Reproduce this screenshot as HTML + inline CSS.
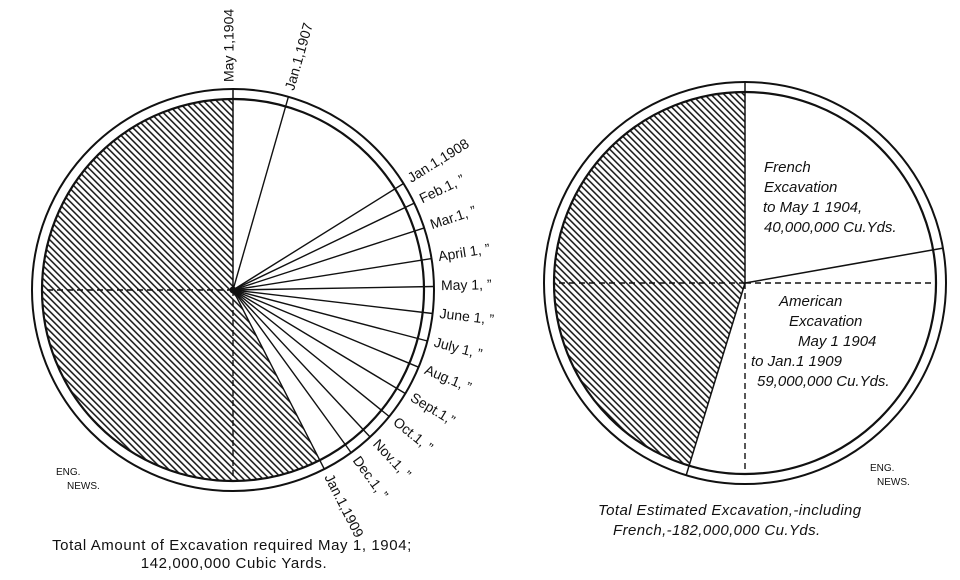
<!DOCTYPE html>
<html><head><meta charset="utf-8"><style>
html,body{margin:0;padding:0;background:#fff;}
svg{display:block;}
text{font-family:"Liberation Sans",sans-serif;fill:#111;}
</style></head><body>
<svg width="960" height="580" viewBox="0 0 960 580" xmlns="http://www.w3.org/2000/svg">
<defs>
<pattern id="h" width="4.6" height="4.6" patternUnits="userSpaceOnUse" patternTransform="rotate(45)">
<line x1="0" y1="1" x2="4.6" y2="1" stroke="#111" stroke-width="1.5"/>
</pattern>
</defs>
<g stroke="#111" fill="none">
<path d="M233,290 L233,99 A191,191 0 1 0 319.7,460.2 Z" fill="url(#h)" stroke="none"/>
<circle cx="233" cy="290" r="201" stroke-width="2"/>
<circle cx="233" cy="290" r="191" stroke-width="2.2"/>
<line x1="233" y1="290" x2="233" y2="89" stroke-width="1.5"/>
<g stroke-width="1.4">
<line x1="233" y1="290" x2="288.4" y2="96.8"/>
<line x1="233" y1="290" x2="403.5" y2="183.5"/>
<line x1="233" y1="290" x2="414.3" y2="203.1"/>
<line x1="233" y1="290" x2="424.2" y2="227.9"/>
<line x1="233" y1="290" x2="431.5" y2="258.6"/>
<line x1="233" y1="290" x2="434" y2="286.5"/>
<line x1="233" y1="290" x2="432.6" y2="313.5"/>
<line x1="233" y1="290" x2="427.4" y2="341"/>
<line x1="233" y1="290" x2="418.6" y2="367.2"/>
<line x1="233" y1="290" x2="405.3" y2="393.5"/>
<line x1="233" y1="290" x2="389.2" y2="416.5"/>
<line x1="233" y1="290" x2="370.1" y2="437"/>
<line x1="233" y1="290" x2="351.1" y2="452.6"/>
<line x1="233" y1="290" x2="324.3" y2="469.1"/>
</g>
<g stroke-width="1.4" stroke-dasharray="6,4">
<line x1="233" y1="290" x2="42" y2="290"/>
<line x1="233" y1="290" x2="233" y2="481"/>
</g>
<circle cx="233" cy="290" r="3" fill="#111"/>
<path d="M745,283 L745,92 A191,191 0 0 0 689.2,465.7 Z" fill="url(#h)" stroke="none"/>
<circle cx="745" cy="283" r="201" stroke-width="2"/>
<circle cx="745" cy="283" r="191" stroke-width="2.2"/>
<g stroke-width="1.5">
<line x1="745" y1="283" x2="745" y2="82"/>
<line x1="745" y1="283" x2="943" y2="248.1"/>
<line x1="745" y1="283" x2="686.2" y2="475.2"/>
</g>
<g stroke-width="1.4" stroke-dasharray="6,4">
<line x1="745" y1="283" x2="554" y2="283"/>
<line x1="745" y1="283" x2="936" y2="283"/>
<line x1="745" y1="283" x2="745" y2="474"/>
</g>
</g>
<g font-size="14" dominant-baseline="middle">
<text transform="translate(230,82) rotate(-90)">May 1,1904</text>
<text transform="translate(290.3,90.1) rotate(-74)">Jan.1,1907</text>
<text transform="translate(409.4,179.8) rotate(-32)">Jan.1,1908</text>
<text transform="translate(420.6,200.1) rotate(-25.6)">Feb.1, ”</text>
<text transform="translate(430.8,225.7) rotate(-18)">Mar.1, ”</text>
<text transform="translate(438.4,257.5) rotate(-9)">April 1, ”</text>
<text transform="translate(441,286.4) rotate(-1)">May 1, ”</text>
<text transform="translate(439.6,314.3) rotate(6.7)">June 1, ”</text>
<text transform="translate(434.2,342.8) rotate(14.7)">July 1,  ”</text>
<text transform="translate(425,369.9) rotate(22.6)">Aug.1, ”</text>
<text transform="translate(411.3,397.1) rotate(31)">Sept.1,”</text>
<text transform="translate(394.6,420.9) rotate(39)">Oct.1,  ”</text>
<text transform="translate(374.9,442.1) rotate(47)">Nov.1,  ”</text>
<text transform="translate(355.3,458.3) rotate(54)">Dec.1, ”</text>
<text transform="translate(327.4,475.3) rotate(63)">Jan.1,1909</text>
</g>
<g font-size="10">
<text x="56" y="475">ENG.</text>
<text x="67" y="489">NEWS.</text>
<text x="870" y="471">ENG.</text>
<text x="877" y="485">NEWS.</text>
</g>
<g font-size="15" font-style="italic">
<text x="764" y="172">French</text>
<text x="764" y="192">Excavation</text>
<text x="763" y="212">to May 1 1904,</text>
<text x="764" y="232">40,000,000 Cu.Yds.</text>
<text x="779" y="306">American</text>
<text x="789" y="326">Excavation</text>
<text x="798" y="346">May 1 1904</text>
<text x="751" y="366">to Jan.1 1909</text>
<text x="757" y="386">59,000,000 Cu.Yds.</text>
</g>
<g font-size="15">
<text x="232" y="550" text-anchor="middle" letter-spacing="0.6">Total Amount of Excavation required May 1, 1904;</text>
<text x="234" y="568" text-anchor="middle" letter-spacing="0.6">142,000,000 Cubic Yards.</text>
</g>
<g font-size="15" font-style="italic">
<text x="598" y="515" letter-spacing="0.4">Total Estimated Excavation,-including</text>
<text x="613" y="535" letter-spacing="0.4">French,-182,000,000 Cu.Yds.</text>
</g>
</svg>
</body></html>
